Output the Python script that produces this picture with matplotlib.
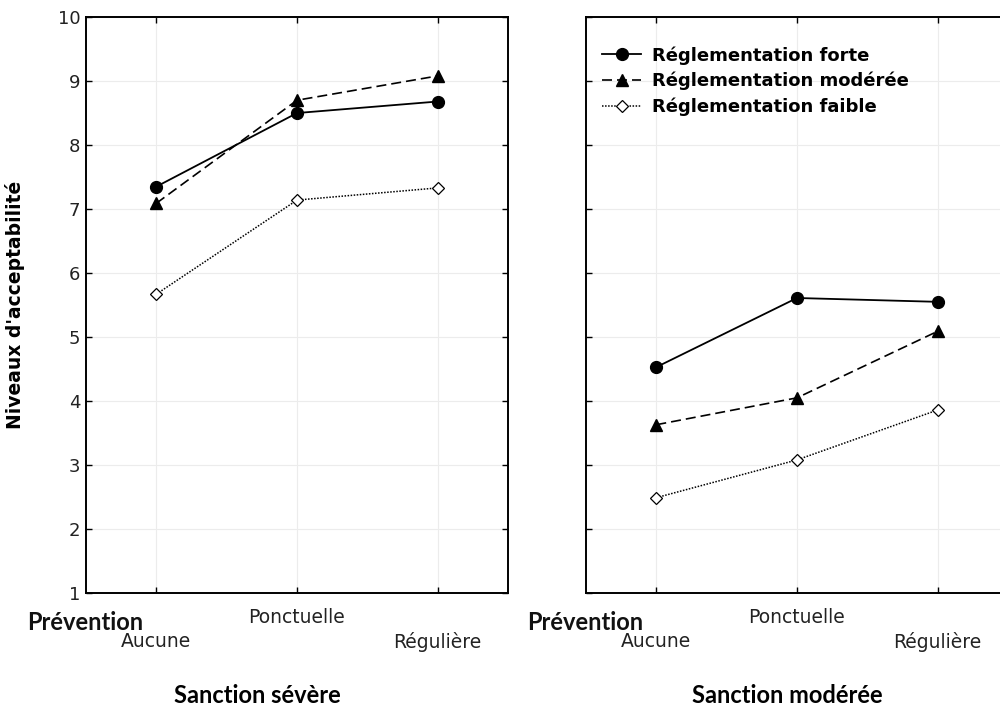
import numpy as np
import matplotlib
matplotlib.use("Agg")
import matplotlib.pyplot as plt

# prevention levels on the x axis
categories = ["Aucune", "Ponctuelle", "Régulière"]
series_names = ["Réglementation forte", "Réglementation modérée", "Réglementation faible"]

# Sanction sévère (left panel)
severe_forte = [7.35, 8.50, 8.68]
severe_moderee = [7.09, 8.70, 9.08]
severe_faible = [5.67, 7.14, 7.33]

# Sanction modérée (right panel)
moderee_forte = [4.53, 5.61, 5.55]
moderee_moderee = [3.63, 4.05, 5.09]
moderee_faible = [2.49, 3.08, 3.86]

panel_titles = ["Sanction sévère", "Sanction modérée"]
yticks = [1, 2, 3, 4, 5, 6, 7, 8, 9, 10]

plt.rcParams['font.family'] = ['DejaVu Sans']

fig = plt.figure(figsize=(10, 7.07), dpi=100)
ax1 = fig.add_axes([0.086, 0.1612, 0.422, 0.8147])
ax2 = fig.add_axes([0.586, 0.1612, 0.422, 0.8147])

styles = [
    dict(color="black", linestyle="-", linewidth=1.3, marker="o", markersize=8.5,
         markerfacecolor="black", markeredgecolor="black"),
    dict(color="black", linestyle=(0, (6, 3)), linewidth=1.2, marker="^", markersize=8,
         markerfacecolor="black", markeredgecolor="black"),
    dict(color="black", linestyle=(0, (1, 1)), linewidth=1.1, marker="D", markersize=6.5,
         markerfacecolor="white", markeredgecolor="black", markeredgewidth=0.9),
]

x = np.arange(len(categories))
panels = [
    (ax1, [severe_forte, severe_moderee, severe_faible]),
    (ax2, [moderee_forte, moderee_moderee, moderee_faible]),
]

for i, (ax, data) in enumerate(panels):
    for name, vals, st in zip(series_names, data, styles):
        ax.plot(x, vals, label=name, **st)
    ax.set_xlim(-0.5, 2.5)
    ax.set_ylim(1, 10)
    ax.set_yticks(yticks)
    ax.set_xticks(x)
    ax.set_xticklabels([])
    ax.grid(True, color="#ececec", linewidth=0.8)
    ax.set_axisbelow(True)
    ax.tick_params(direction="in", top=True, right=True, length=4, width=1,
                   labelsize=13, pad=4, labelcolor="#222222")
    for sp in ax.spines.values():
        sp.set_linewidth(1.4)
    # staggered category labels
    tr = ax.get_xaxis_transform()
    for j, c in enumerate(categories):
        yy = -0.042 if j == 1 else -0.085
        ax.text(x[j], yy, c, transform=tr, ha="center", va="center", fontsize=13.5,
                color="#222222")
    ax.text(-0.5 - 0.42, -0.051, "Prévention", transform=tr, ha="left", va="center",
            fontsize=17, fontweight="bold", family="Lato", color="#111111")
    if i == 1:
        ax.tick_params(labelleft=False)

ax1.text(0.72, -0.178, panel_titles[0], transform=ax1.get_xaxis_transform(),
         ha="center", va="center", fontsize=17, fontweight="bold", family="Lato")
ax2.text(0.93, -0.178, panel_titles[1], transform=ax2.get_xaxis_transform(),
         ha="center", va="center", fontsize=17, fontweight="bold", family="Lato")

ax1.set_ylabel("Niveaux d'acceptabilité", fontsize=13.5, fontweight="bold")
ax1.yaxis.set_label_coords(-0.145, 0.5)

ax2.legend(loc="upper left", bbox_to_anchor=(0.02, 0.962), frameon=False,
           prop=dict(size=13, weight="bold"), handlelength=2.2, handletextpad=0.6,
           labelspacing=0.4, borderaxespad=0)

fig.savefig("out.png", dpi=100)
